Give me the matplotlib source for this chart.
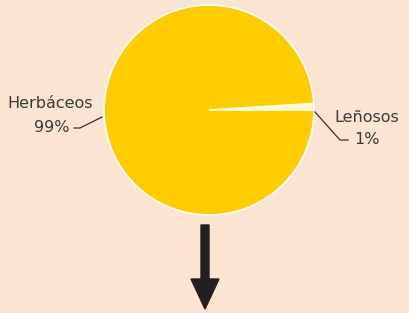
import matplotlib
matplotlib.use('Agg')
import matplotlib.pyplot as plt
from matplotlib.patches import FancyArrow

labels = ['Leñosos', 'Herbáceos']
values = [1, 99]
pcts = ['1%', '99%']
colors = ['#fff6c8', '#ffcc00']

bg = '#fbe4d2'
fig = plt.figure(figsize=(4.10, 3.13), dpi=100, facecolor=bg)
ax = fig.add_axes([0, 0, 1, 1])
ax.set_facecolor(bg)
ax.set_xlim(0, 410)
ax.set_ylim(313, 0)
ax.axis('off')

# pie in pixel coords (y axis inverted -> counterclock=False draws upward from 0 deg)
ax.pie(values, colors=colors, startangle=0, counterclock=False,
       center=(209, 110), radius=105, frame=True,
       wedgeprops=dict(edgecolor='white', linewidth=1.2))
ax.set_xlim(0, 410)
ax.set_ylim(313, 0)
ax.axis('off')

txt = dict(color='#3a3a3a', fontsize=11.5, family='DejaVu Sans')
ax.text(93, 104, labels[1], ha='right', va='center', **txt)
ax.text(70, 128, pcts[1], ha='right', va='center', **txt)
ax.plot([74, 80, 102], [128, 128, 117], color='#333333', lw=0.9)

ax.text(334, 118, labels[0], ha='left', va='center', **txt)
ax.text(380, 140, pcts[0], ha='right', va='center', **txt)
ax.plot([315, 340, 348], [112, 140, 140], color='#333333', lw=0.9)

ax.add_patch(FancyArrow(205, 225, 0, 84, width=8, head_width=28,
                        head_length=30, length_includes_head=True,
                        color='#231f20'))

fig.savefig('out.png', dpi=100, facecolor=bg)
